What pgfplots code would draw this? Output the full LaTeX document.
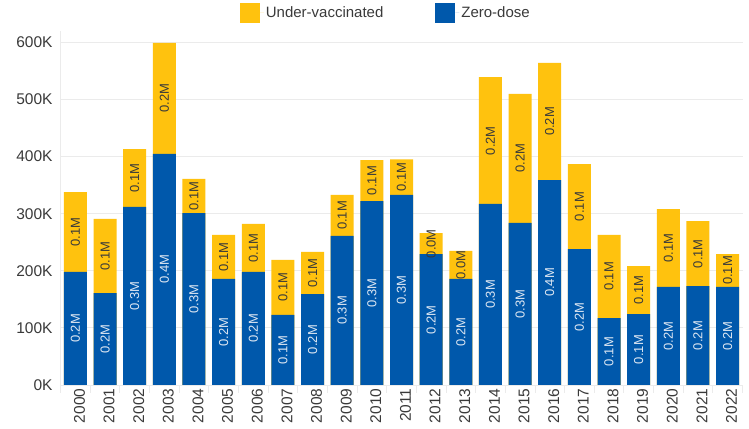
\documentclass[border=0pt]{standalone}
\usepackage{fontspec}
\setmainfont{Liberation Sans}
\usepackage{pgfplots}
\usepackage{pgfplotstable}
\pgfplotsset{compat=1.18}
\definecolor{uyellow}{HTML}{FFC20E}
\definecolor{ublue}{HTML}{0058AB}
\definecolor{gridc}{HTML}{EBEBEB}
\definecolor{tickc}{HTML}{3A3A3A}
\definecolor{lightlab}{HTML}{DCE6F2}
\definecolor{darklab}{HTML}{3A3A3A}

\pgfplotstableread{
x year zero under zl ul
0 2000 198 140 0.2M 0.1M
1 2001 161 130 0.2M 0.1M
2 2002 312 101 0.3M 0.1M
3 2003 405 194 0.4M 0.2M
4 2004 301 60 0.3M 0.1M
5 2005 186 77 0.2M 0.1M
6 2006 198 84 0.2M 0.1M
7 2007 123 96 0.1M 0.1M
8 2008 159 74 0.2M 0.1M
9 2009 261 72 0.3M 0.1M
10 2010 322 72 0.3M 0.1M
11 2011 333 62 0.3M 0.1M
12 2012 229 37 0.2M 0.0M
13 2013 186 49 0.2M 0.0M
14 2014 317 222 0.3M 0.2M
15 2015 284 226 0.3M 0.2M
16 2016 359 205 0.4M 0.2M
17 2017 238 149 0.2M 0.1M
18 2018 117 146 0.1M 0.1M
19 2019 124 84 0.1M 0.1M
20 2020 172 136 0.2M 0.1M
21 2021 173 114 0.2M 0.1M
22 2022 172 57 0.2M 0.1M
}\data

\begin{document}
\begin{tikzpicture}
\begin{axis}[
  scale only axis, width=683pt, height=354pt,
  xmin=-0.52, xmax=22.52, ymin=0, ymax=620,
  ybar, bar width=23pt,
  axis x line*=bottom, axis y line*=left,
  axis line style={draw=gridc, line width=0.8pt, -},
  xtick={0,...,22},
  xticklabels={2000,2001,2002,2003,2004,2005,2006,2007,2008,2009,2010,2011,2012,2013,2014,2015,2016,2017,2018,2019,2020,2021,2022},
  minor xtick={-0.5,0.5,...,22.5},
  major tick length=0pt, minor tick length=8pt, tick align=outside,
  minor tick style={draw=gridc, line width=0.8pt},
  ytick={0,100,...,600},
  yticklabels={0K,100K,200K,300K,400K,500K,600K},
  ymajorgrids, grid style={draw=gridc, line width=0.8pt},
  tick label style={font=\fontsize{15.5}{16}\selectfont, text=tickc},
  xticklabel style={rotate=90, anchor=east, yshift=-4pt},
  yticklabel style={xshift=-4pt},
  legend style={at={(0.477,1.051)}, anchor=center, draw=none, fill=none,
    legend columns=2, font=\fontsize{15}{16}\selectfont, text=tickc,
    /tikz/every even column/.append style={column sep=50pt}},
  legend image code/.code={\fill[#1] (0pt,-10pt) rectangle (20pt,10pt); \path (20pt,0pt) -- (24pt,0pt);},
]
\addplot[fill=uyellow, draw=none, bar shift=0pt] table[x=x, y expr=\thisrow{zero}+\thisrow{under}]{\data};
\addlegendentry{Under-vaccinated}
\addplot[fill=ublue, draw=none, bar shift=0pt] table[x=x, y=zero]{\data};
\addlegendentry{Zero-dose}
\addplot[draw=none, fill=none, bar shift=0pt, forget plot, nodes near coords, point meta=explicit symbolic,
  every node near coord/.append style={rotate=90, anchor=center, text=lightlab, font=\fontsize{13}{13}\selectfont}]
  table[x=x, y expr=\thisrow{zero}/2, meta=zl]{\data};
\addplot[draw=none, fill=none, bar shift=0pt, forget plot, nodes near coords, point meta=explicit symbolic,
  every node near coord/.append style={rotate=90, anchor=center, text=darklab, font=\fontsize{13}{13}\selectfont}]
  table[x=x, y expr=\thisrow{zero}+\thisrow{under}/2, meta=ul]{\data};
\end{axis}
\pgfresetboundingbox
\path[use as bounding box] ([xshift=-60pt,yshift=-44pt]current axis.south west) rectangle ([xshift=6pt,yshift=31pt]current axis.north east);
\end{tikzpicture}
\end{document}
